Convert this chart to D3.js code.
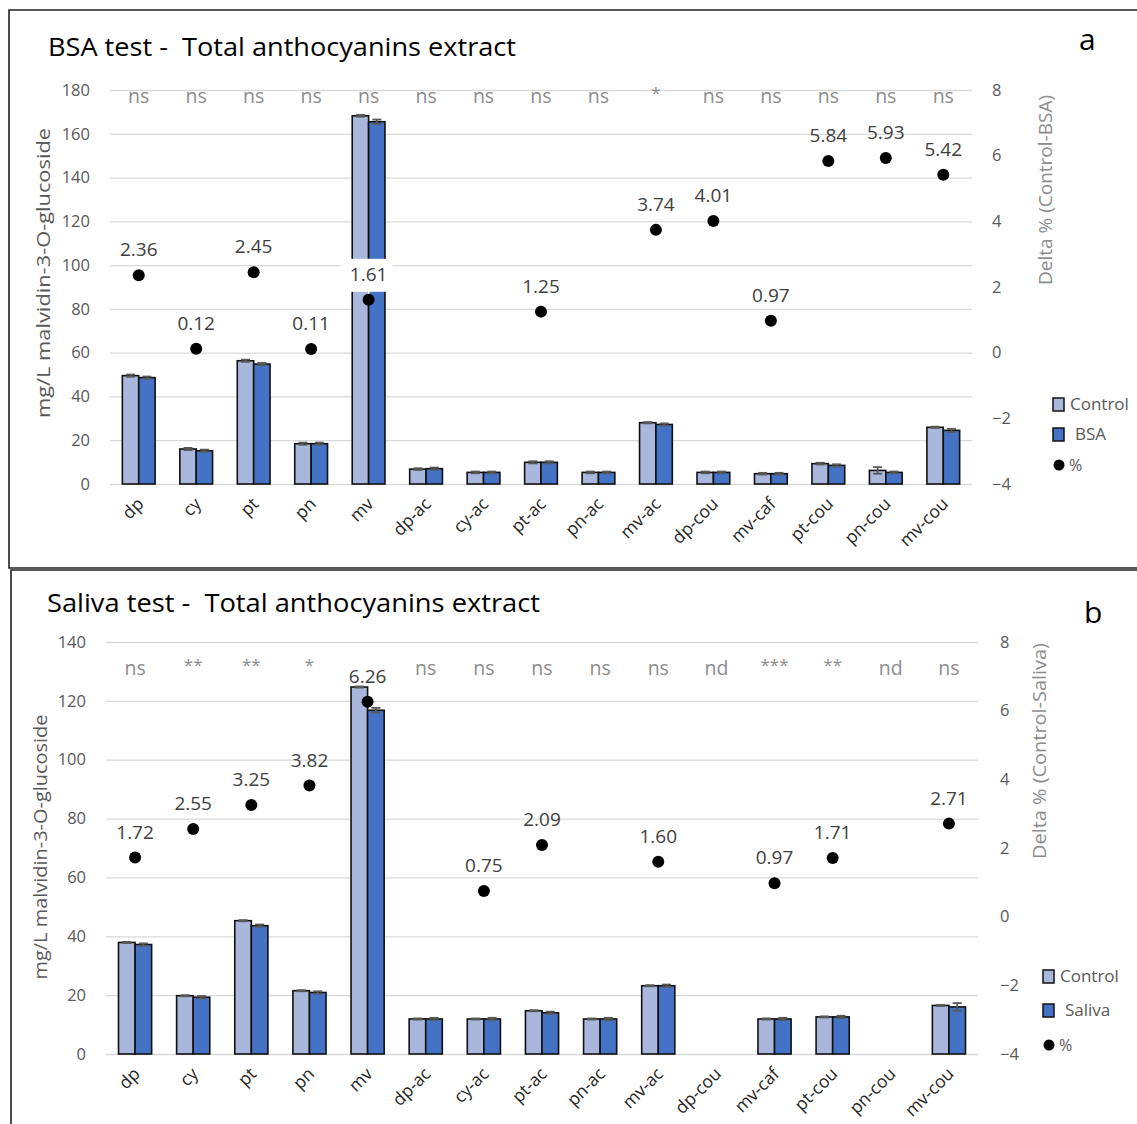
<!DOCTYPE html>
<html><head><meta charset="utf-8">
<script src="https://cdnjs.cloudflare.com/ajax/libs/d3/7.8.5/d3.min.js"></script>
<style>body{margin:0;background:#fff}svg{display:block;font-family:"Open Sans",sans-serif}text{white-space:pre}</style>
</head><body><svg id="c" width="1137" height="1124"></svg>
<script>
const categories = ["dp","cy","pt","pn","mv","dp-ac","cy-ac","pt-ac","pn-ac","mv-ac","dp-cou","mv-caf","pt-cou","pn-cou","mv-cou"];

// Panel a: BSA test
const bsaControl    = [49.5,16.0,56.3,18.4,168.2,6.8,5.3,9.9,5.3,28.0,5.3,4.7,9.3,6.2,25.9];
const bsaTreated    = [48.6,15.2,54.8,18.4,165.5,7.0,5.3,9.9,5.3,27.2,5.3,4.7,8.5,5.3,24.5];
const bsaControlErr = [0.5,0.5,0.5,0.5,0.4,0.4,0.4,0.5,0.4,0.3,0.4,0.4,0.4,1.5,0.3];
const bsaTreatedErr = [0.5,0.5,0.5,0.5,1.0,0.5,0.4,0.5,0.4,0.5,0.4,0.4,0.5,0.4,0.7];
const bsaDelta      = [2.36,0.12,2.45,0.11,1.61,null,null,1.25,null,3.74,4.01,0.97,5.84,5.93,5.42];
const bsaSig        = ["ns","ns","ns","ns","ns","ns","ns","ns","ns","*","ns","ns","ns","ns","ns"];
const bsaLeftTicks  = [0,20,40,60,80,100,120,140,160,180];
const bsaRightTicks = [-4,-2,0,2,4,6,8];

// Panel b: Saliva test
const salControl    = [37.9,19.8,45.3,21.5,124.7,11.9,11.9,14.7,11.9,23.2,null,11.9,12.6,null,16.5];
const salTreated    = [37.2,19.3,43.6,20.9,116.8,11.9,11.9,14.0,11.9,23.2,null,11.9,12.6,null,16.0];
const salControlErr = [0.2,0.2,0.2,0.2,0.2,0.2,0.2,0.2,0.2,0.2,null,0.2,0.2,null,0.2];
const salTreatedErr = [0.4,0.4,0.4,0.4,0.8,0.4,0.4,0.4,0.4,0.4,null,0.4,0.4,null,1.3];
const salDelta      = [1.72,2.55,3.25,3.82,6.26,null,0.75,2.09,null,1.60,null,0.97,1.71,null,2.71];
const salSig        = ["ns","**","**","*","","ns","ns","ns","ns","ns","nd","***","**","nd","ns"];
const salLeftTicks  = [0,20,40,60,80,100,120,140];
const salRightTicks = [-4,-2,0,2,4,6,8];

const svg = d3.select("#c");
const C_CTRL = "#a9b7dc", C_TRT = "#4472c4", GRID = "#d9d9d9", TICK = "#595959";

function panel(o){
  const g = svg.append("g");
  g.append("path").attr("d", o.frame).attr("fill","none").attr("stroke","#222").attr("stroke-width",1.6);
  g.append("text").attr("x",o.titleX).attr("y",o.titleY).attr("font-size",25.5).attr("fill","#000")
    .attr("textLength",o.titleLen).attr("lengthAdjust","spacingAndGlyphs").text(o.title);
  g.append("text").attr("x",o.letterX).attr("y",o.letterY).attr("font-size",30).attr("fill","#000").text(o.letter);

  const x = d3.scaleBand().domain(categories).range([o.x0,o.x1]).paddingInner(0.43).paddingOuter(0.215);
  const xc = d3.scaleBand().domain(categories).range([o.x0,o.x1]);
  const y = d3.scaleLinear().domain([0,o.yMax]).range([o.y1,o.y0]);
  const y2 = d3.scaleLinear().domain([-4,8]).range([o.y1,o.y0]);
  const sub = d3.scaleBand().domain(["c","t"]).range([0,x.bandwidth()]);

  const ga = g.append("g").attr("transform",`translate(${o.x0},0)`)
    .call(d3.axisLeft(y).tickValues(o.leftTicks).tickSize(-(o.x1-o.x0)).tickPadding(20));
  ga.select(".domain").remove();
  ga.selectAll("line").attr("stroke",GRID).attr("stroke-width",1.3);
  ga.selectAll("text").attr("fill",TICK).attr("font-size",16.5).attr("font-family","Open Sans");

  const gr = g.append("g").attr("transform",`translate(${o.x1},0)`)
    .call(d3.axisRight(y2).tickValues(o.rightTicks).tickSize(0).tickPadding(o.rPad));
  gr.select(".domain").remove();
  gr.selectAll("text").attr("fill",TICK).attr("font-size",16.5).attr("font-family","Open Sans");

  const gx = g.append("g").attr("transform",`translate(0,${o.y1})`)
    .call(d3.axisBottom(xc).tickSize(0).tickPadding(0));
  gx.select(".domain").remove();
  gx.selectAll("text").attr("fill","#262626").attr("font-size",17.5).attr("font-family","Open Sans")
    .attr("text-anchor","end").attr("dy",null).attr("transform","translate(6,21) rotate(-45)");

  g.append("text").attr("transform",`translate(${o.lTitleX},${o.lTitleY}) rotate(-90)`)
    .attr("text-anchor","middle").attr("font-size",18.5).attr("fill",TICK)
    .attr("textLength",o.lTitleLen).attr("lengthAdjust","spacingAndGlyphs").text("mg/L malvidin-3-O-glucoside");
  g.append("text").attr("transform",`translate(${o.rTitleX},${o.rTitleY}) rotate(-90)`)
    .attr("text-anchor","middle").attr("font-size",18.5).attr("fill","#8c8c8c")
    .attr("textLength",o.rTitleLen).attr("lengthAdjust","spacingAndGlyphs").text(o.rTitle);

  const rows = categories.map((c,i)=>({c,i,ctrl:o.ctrl[i],trt:o.trt[i],ce:o.ce[i],te:o.te[i],d:o.delta[i],s:o.sig[i]}));
  const series = [["c",C_CTRL,"ctrl","ce"],["t",C_TRT,"trt","te"]];
  series.forEach(([k,col,vk,ek])=>{
    const data = rows.filter(r=>r[vk]!=null);
    g.append("g").selectAll("rect").data(data).join("rect")
      .attr("x",r=>x(r.c)+sub(k)).attr("width",sub.bandwidth())
      .attr("y",r=>y(r[vk])).attr("height",r=>y(0)-y(r[vk]))
      .attr("fill",col).attr("stroke","#111").attr("stroke-width",1.6);
    const eg = g.append("g").attr("stroke","#595959").attr("stroke-width",1.8);
    data.forEach(r=>{
      const cx = x(r.c)+sub(k)+sub.bandwidth()/2, e=r[ek];
      const ya=y(r[vk]+e), yb=y(r[vk]-e);
      eg.append("line").attr("x1",cx).attr("x2",cx).attr("y1",ya).attr("y2",yb);
      eg.append("line").attr("x1",cx-4.5).attr("x2",cx+4.5).attr("y1",ya).attr("y2",ya);
      eg.append("line").attr("x1",cx-4.5).attr("x2",cx+4.5).attr("y1",yb).attr("y2",yb);
    });
  });

  g.append("g").selectAll("text").data(rows).join("text")
    .attr("x",r=>xc(r.c)+xc.bandwidth()/2).attr("y",r=>r.s.includes("*")?o.sigY-4:o.sigY)
    .attr("text-anchor","middle").attr("font-size",r=>r.s.includes("*")?17:19.5).attr("fill","#8c8c8c").text(r=>r.s);

  const pts = rows.filter(r=>r.d!=null);
  const lg = g.append("g");
  pts.forEach(r=>{
    const cx = xc(r.c)+xc.bandwidth()/2, cy = y2(r.d);
    const ly = cy-19;
    const top = Math.min(y(r.ctrl||0), y(r.trt||0));
    if (ly-14 > top){
      lg.append("rect").attr("x",cx-28).attr("y",ly-22).attr("width",52).attr("height",33).attr("fill","#fff");
      lg.append("line").attr("x1",cx).attr("x2",cx).attr("y1",ly+10).attr("y2",cy).attr("stroke","#fff").attr("stroke-width",2);
    }
    lg.append("text").attr("x",cx).attr("y",ly).attr("text-anchor","middle").attr("font-size",19).attr("fill","#404040")
      .text(d3.format(".2f")(r.d));
  });
  g.append("g").selectAll("circle").data(pts).join("circle")
    .attr("cx",r=>xc(r.c)+xc.bandwidth()/2).attr("cy",r=>y2(r.d)).attr("r",6).attr("fill","#000");

  const L = g.append("g").attr("transform",`translate(${o.legX},${o.legY})`);
  L.append("rect").attr("x",0).attr("y",0).attr("width",11).attr("height",13).attr("fill",C_CTRL).attr("stroke","#111").attr("stroke-width",1.5);
  L.append("text").attr("x",17).attr("y",12).attr("font-size",17).attr("fill",TICK).text("Control");
  L.append("rect").attr("x",0).attr("y",o.legGap).attr("width",11).attr("height",13).attr("fill",C_TRT).attr("stroke","#111").attr("stroke-width",1.5);
  L.append("text").attr("x",22).attr("y",o.legGap+12).attr("font-size",17).attr("fill",TICK).text(o.trtName);
  L.append("circle").attr("cx",6).attr("cy",2*o.legGap+7).attr("r",5.5).attr("fill","#000");
  L.append("text").attr("x",16).attr("y",2*o.legGap+13).attr("font-size",16).attr("fill",TICK).text("%");
}

panel({frame:"M1137,10 H9 V568 H1137", title:"BSA test -  Total anthocyanins extract", titleX:48, titleY:56, titleLen:468,
  letter:"a", letterX:1079, letterY:50,
  x0:110,x1:972,y0:90,y1:484,yMax:180,leftTicks:bsaLeftTicks,rightTicks:bsaRightTicks,rPad:20,
  lTitleX:50,lTitleY:273,lTitleLen:290,rTitleX:1052,rTitleY:190,rTitleLen:190,rTitle:"Delta % (Control-BSA)",
  ctrl:bsaControl,trt:bsaTreated,ce:bsaControlErr,te:bsaTreatedErr,delta:bsaDelta,sig:bsaSig,sigY:103,
  legX:1053,legY:398,legGap:30,trtName:"BSA"});

panel({frame:"M1137,570 H11 V1124", title:"Saliva test -  Total anthocyanins extract", titleX:47, titleY:612, titleLen:493,
  letter:"b", letterX:1084, letterY:623,
  x0:106,x1:978,y0:642,y1:1054,yMax:140,leftTicks:salLeftTicks,rightTicks:salRightTicks,rPad:22,
  lTitleX:47,lTitleY:847,lTitleLen:265,rTitleX:1046,rTitleY:751,rTitleLen:216,rTitle:"Delta % (Control-Saliva)",
  ctrl:salControl,trt:salTreated,ce:salControlErr,te:salTreatedErr,delta:salDelta,sig:salSig,sigY:675,
  legX:1043,legY:970,legGap:34,trtName:"Saliva"});
</script></body></html>
